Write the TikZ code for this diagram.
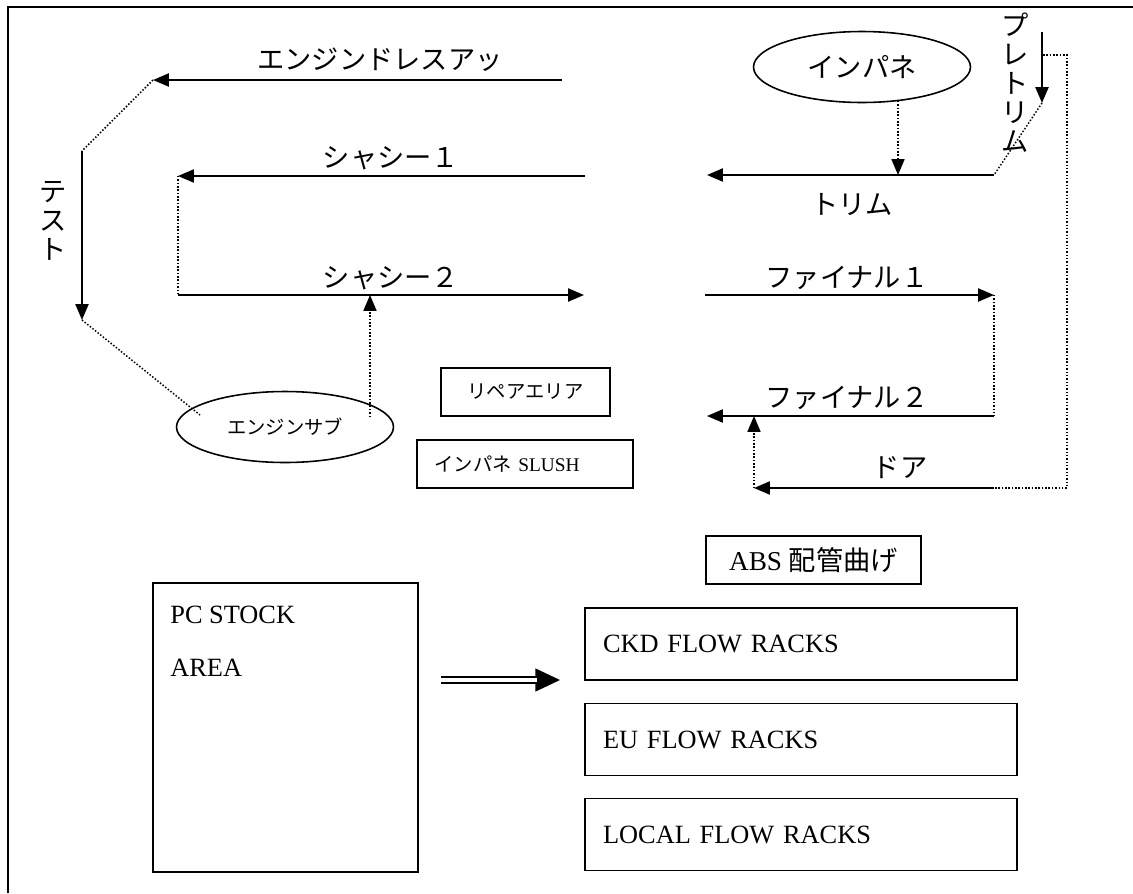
\documentclass[tikz,border=0pt]{standalone}
\usepackage{fontspec}
\setmainfont{Liberation Serif}
\newfontfamily\jp{Noto Sans CJK JP}
\usetikzlibrary{arrows.meta, shapes.geometric}

\newcommand\biglbl{\jp\fontsize{15.5pt}{16.5pt}\selectfont}
\newcommand\smalllbl{\jp\fontsize{11pt}{13pt}\selectfont}
\newcommand\rackfont{\fontsize{15pt}{17pt}\selectfont}

\tikzset{
  flow/.style = {line width=1.1pt, -{Triangle[length=9pt, width=7.4pt]}},
  link/.style = {line width=0.85pt, dash pattern=on 0.85pt off 1.05pt},
  linkarrow/.style = {link, -{Triangle[length=9pt, width=7.4pt]}},
  station/.style = {draw, ellipse, line width=0.9pt, minimum width=4.34cm, minimum height=1.42cm, inner sep=0pt},
  area/.style = {draw, rectangle, line width=1.1pt, inner sep=0pt},
}

\begin{document}
\begin{tikzpicture}[x=0.02cm, y=-0.02cm]
\useasboundingbox (0,0) rectangle (1133,893);
\draw[line width=1.1pt] (8,893) -- (8,7) -- (1133,7);

% engine dress-up, test
\coordinate (edaR) at (562,80);
\coordinate (edaL) at (153,80);
\coordinate (testT) at (82,151);
\coordinate (testB) at (82,320);
\draw[flow] (edaR) -- (edaL);
\draw[link] (edaL) -- (testT);
\draw[flow] (testT) -- (testB);
\node[font=\biglbl] (edaLbl) at (380,60) {エンジンドレスアッ};
\node[font=\biglbl, align=center, inner sep=0pt] (testLbl) at (53,221) {テ\\ス\\ト};

% chassis
\coordinate (ch1R) at (585,176);
\coordinate (ch1L) at (178,176);
\coordinate (ch2L) at (178,295);
\coordinate (ch2R) at (584,295);
\draw[flow] (ch1R) -- (ch1L);
\draw[link] (ch1L) -- (ch2L);
\draw[flow] (ch2L) -- (ch2R);
\node[font=\biglbl] (ch1Lbl) at (391,158) {シャシー１};
\node[font=\biglbl] (ch2Lbl) at (391,278) {シャシー２};

\node[station, font=\smalllbl] (esub) at (285,427) {エンジンサブ};
\coordinate (esubIn) at (200,415);
\coordinate (esubOut) at (370,417);
\draw[link] (testB) -- (esubIn);
\draw[linkarrow] (esubOut) -- (esubOut |- ch2L);

\node[area, minimum width=3.38cm, minimum height=0.96cm, font=\smalllbl] (repair) at (525.5,392) {リペアエリア};
\node[area, minimum height=0.96cm, text width=3.62cm, inner xsep=10pt, align=left, font=\smalllbl] (slush) at (525,464) {インパネ {\rmfamily SLUSH}};

% trim
\node[station, font=\biglbl] (impane) at (862,67) {インパネ};
\coordinate (impaneOut) at (898,101);
\coordinate (trimR) at (994,175);
\coordinate (trimL) at (707,175);
\draw[linkarrow] (impaneOut) -- (impaneOut |- trimR);
\draw[flow] (trimR) -- (trimL);
\node[font=\biglbl] (trimLbl) at (852,205) {トリム};

\coordinate (ptT) at (1042,32);
\coordinate (ptB) at (1042,103);
\draw[flow] (ptT) -- (ptB);
\draw[link] (ptB) -- (trimR);
\node[font=\biglbl, align=center, inner sep=0pt] (ptLbl) at (1015,83) {プ\\レ\\ト\\リ\\ム};

% final, door
\coordinate (fin1L) at (705,295);
\coordinate (fin1R) at (994,295);
\coordinate (fin2R) at (994,416);
\coordinate (fin2L) at (707,416);
\coordinate (doorR) at (994,488);
\coordinate (doorL) at (754,488);
\coordinate (doorTap) at (1043,55);
\coordinate (doorBend) at (1067,55);
\draw[flow] (fin1L) -- (fin1R);
\draw[link] (fin1R) -- (fin2R);
\draw[flow] (fin2R) -- (fin2L);
\draw[link] (doorTap) -- (doorBend) |- (doorR);
\draw[flow] (doorR) -- (doorL);
\draw[linkarrow] (doorL) -- (doorL |- fin2R);
\node[font=\biglbl] (fin1Lbl) at (847,278) {ファイナル１};
\node[font=\biglbl] (fin2Lbl) at (847,398) {ファイナル２};
\node[font=\biglbl] (doorLbl) at (900,468) {ドア};

% stock and racks
\node[area, minimum width=4.3cm, minimum height=0.96cm, font=\fontsize{15.5pt}{17pt}\selectfont] (abs) at (813.5,560) {ABS {\jp 配管曲げ}};
\node[area, minimum width=5.3cm, minimum height=5.78cm] (pcstock) at (285.5,727.5) {};
\node[anchor=west, inner sep=0pt, font=\rackfont] (pcLbl) at (170,615) {PC STOCK};
\node[anchor=west, inner sep=0pt, font=\rackfont] (areaLbl) at (170,668) {AREA};
\foreach \name/\yc/\txt in {ckd/644/CKD FLOW RACKS, eu/739.5/EU FLOW RACKS, local/834.5/LOCAL FLOW RACKS}
  \node[area, minimum height=1.44cm, text width=7.92cm, inner xsep=10.2pt, align=left, font=\rackfont] (\name) at (801,\yc) {\txt};

\coordinate (dblA) at (441,680);
\coordinate (dblB) at (560,680);
\draw[line width=0.9pt, -{Triangle[length=14pt, width=13pt]}] (dblA) -- (dblB);
\draw[double, double distance=2.2pt, line width=0.9pt, shorten >=13pt] (dblA) -- (dblB);
\end{tikzpicture}
\end{document}
